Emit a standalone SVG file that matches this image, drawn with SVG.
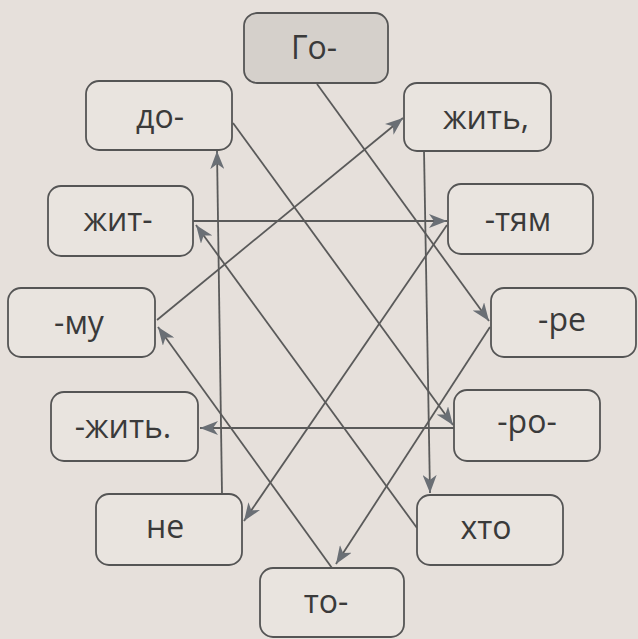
<svg xmlns="http://www.w3.org/2000/svg" width="638" height="639" viewBox="0 0 638 639">
<style>
.box{fill:#e9e4df;stroke:#555;stroke-width:1.8}
.hd{fill:#d5d0cb}
.t{font-family:"Open Sans","Liberation Sans",sans-serif;font-size:32px;fill:#3a3a3a;text-anchor:middle}
.c{stroke:#5a5a5a;stroke-width:1.8;fill:none;marker-end:url(#ah)}
</style>
<defs>
<marker id="ah" markerUnits="userSpaceOnUse" markerWidth="20" markerHeight="14" refX="18" refY="7" orient="auto">
<path d="M0,0 L18,7 L0,14 L5,7 z" fill="#6a6f75"/>
</marker>
</defs>
<rect width="638" height="639" fill="#e6e0db"/>
<g id="connectors">
<path class="c" d="M317,84 L489,321"/>
<path class="c" d="M490,327 L336,564"/>
<path class="c" d="M332,568 L158,327"/>
<path class="c" d="M157,320 L403,118"/>
<path class="c" d="M424,150 L430,493"/>
<path class="c" d="M417,528 L196,225"/>
<path class="c" d="M193,221 L447,221"/>
<path class="c" d="M447,225 L244,521"/>
<path class="c" d="M222,494 L217,151"/>
<path class="c" d="M233,123 L453,425"/>
<path class="c" d="M454,428 L200,428"/>
</g>
<g id="n-go"><rect class="box hd" x="244" y="13" width="144" height="70" rx="13"/><text class="t" x="314" y="59">Го-</text></g>
<g id="n-do"><rect class="box" x="86" y="81" width="146" height="69" rx="13"/><text class="t" x="160" y="128">до-</text></g>
<g id="n-zhyt1"><rect class="box" x="404" y="83" width="147" height="68" rx="13"/><text class="t" x="486" y="129">жить,</text></g>
<g id="n-zhyt2"><rect class="box" x="48" y="186" width="145" height="70" rx="13"/><text class="t" x="118" y="231">жит-</text></g>
<g id="n-tiam"><rect class="box" x="448" y="184" width="145" height="70" rx="13"/><text class="t" x="518" y="231">-тям</text></g>
<g id="n-mu"><rect class="box" x="8" y="288" width="147" height="69" rx="13"/><text class="t" x="79" y="334">-му</text></g>
<g id="n-re"><rect class="box" x="491" y="288" width="145" height="69" rx="13"/><text class="t" x="562" y="331">-ре</text></g>
<g id="n-zhyt3"><rect class="box" x="51" y="392" width="147" height="69" rx="13"/><text class="t" x="123" y="438">-жить.</text></g>
<g id="n-ro"><rect class="box" x="454" y="390" width="146" height="71" rx="13"/><text class="t" x="527" y="433">-ро-</text></g>
<g id="n-ne"><rect class="box" x="96" y="494" width="146" height="71" rx="13"/><text class="t" x="165" y="538">не</text></g>
<g id="n-khto"><rect class="box" x="417" y="495" width="146" height="70" rx="13"/><text class="t" x="486" y="539">хто</text></g>
<g id="n-to"><rect class="box" x="260" y="568" width="144" height="69" rx="13"/><text class="t" x="326" y="613">то-</text></g>
</svg>
